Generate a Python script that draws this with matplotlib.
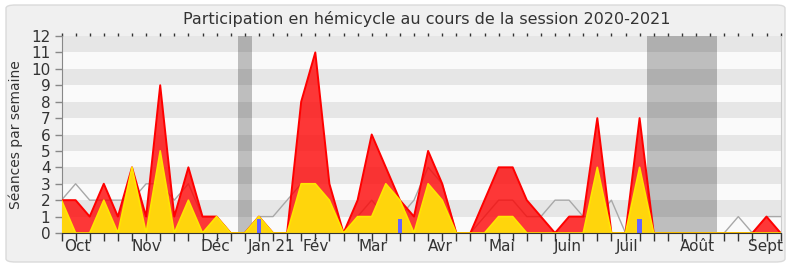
import matplotlib
matplotlib.use("Agg")
import matplotlib.pyplot as plt
from matplotlib.patches import FancyBboxPatch

# weekly values, session 2020-2021 (52 weeks)
weeks = list(range(52))
presence = [2, 2, 1, 3, 1, 4, 1, 9, 1, 4,
            1, 1, 0, 0, 1, 0, 0, 8, 11, 3,
            0, 2, 6, 4, 2, 1, 5, 3, 0, 0,
            2, 4, 4, 2, 1, 0, 1, 1, 7, 0,
            0, 7, 0, 0, 0, 0, 0, 0, 0, 0,
            1, 0]
participation = [2, 0, 0, 2, 0, 4, 0, 5, 0, 2,
                 0, 1, 0, 0, 1, 0, 0, 3, 3, 2,
                 0, 1, 1, 3, 2, 0, 3, 2, 0, 0,
                 0, 1, 1, 0, 0, 0, 0, 0, 4, 0,
                 0, 4, 0, 0, 0, 0, 0, 0, 0, 0,
                 0, 0]
mediane = [2, 3, 2, 2, 2, 2, 3, 3, 2, 3,
           1, 1, 0, 0, 1, 1, 2, 3, 3, 2,
           0, 1, 2, 1, 1, 2, 4, 3, 0, 0,
           1, 2, 2, 1, 1, 2, 2, 1, 1, 2,
           0, 1, 0, 0, 0, 0, 0, 0, 1, 0,
           1, 1]
question_weeks = [14, 24, 41]
question_vals = [0.85, 0.85, 0.85]

vacances = [(12.5, 13.5), (41.5, 46.5)]

month_pos = [1.1, 6.0, 10.9, 14.9, 18.05, 22.1, 26.9, 31.2, 35.9, 40.1, 45.1, 49.95]
month_labels = ["Oct", "Nov", "Déc", "Jan 21", "Fév", "Mar", "Avr", "Mai",
                "Juin", "Juil", "Août", "Sept"]

W, H = 790, 267
fig = plt.figure(figsize=(W / 100, H / 100), dpi=100, facecolor="white")

# rounded frame
frame = FancyBboxPatch((6 / W, 5 / H), 779 / W, 257 / H,
                       boxstyle="round,pad=0,rounding_size=0.012",
                       transform=fig.transFigure, facecolor="#f0f0f0",
                       edgecolor="#dadada", linewidth=1.0, zorder=-10)
fig.patches.append(frame)

left, right, top, bottom = 61.5, 780.6, 36, 233
ax = fig.add_axes([left / W, 1 - bottom / H, (right - left) / W, (bottom - top) / H])
ax.set_facecolor("#fafafa")

# horizontal stripes
for k in range(12):
    ax.axhspan(k, k + 1, color="#e6e6e6" if k % 2 else "#fafafa", lw=0, zorder=0)

# holidays
for a, b in vacances:
    ax.axvspan(a, b, color="black", alpha=0.24, lw=0, zorder=1)

ax.plot(weeks, mediane, color="#a8a8a8", lw=1.0, zorder=2)

ax.fill_between(weeks, presence, 0, facecolor=(1, 0, 0, 0.78), lw=0, zorder=3)
ax.plot(weeks, presence, color="#ff0000", lw=1.4, zorder=3.5)

ax.fill_between(weeks, participation, 0, facecolor="#ffd50c", lw=0, zorder=4)
ax.plot(weeks, participation, color="#ffe600", lw=1.2, zorder=4.5)

ax.bar(question_weeks, question_vals, width=0.33, color="#6464ff", zorder=5)

ax.set_xlim(0, 51)
ax.set_ylim(0, 12)

ax.xaxis.remove_overlapping_locs = False
ax.set_xticks(weeks)
ax.set_xticklabels([])
ax.set_xticks(month_pos, minor=True)
ax.set_xticklabels(month_labels, minor=True)
ax.tick_params(axis="x", which="major", length=6, width=1, color="#333333",
               direction="out")
ax.tick_params(axis="x", which="minor", length=0, pad=4, labelsize=11,
               labelcolor="#333333")
sec = ax.secondary_xaxis("top")
sec.set_xticks(weeks)
sec.set_xticklabels([])
sec.tick_params(length=2, width=1, color="#333333", direction="out")
sec.spines["top"].set_visible(False)

ax.set_yticks(range(13))
ax.tick_params(axis="y", length=5, width=1, color="#888888", pad=3,
               labelsize=11, labelcolor="#333333")

ax.spines["top"].set_visible(False)
ax.spines["right"].set_color("#cccccc")
ax.spines["left"].set_color("#888888")
ax.spines["bottom"].set_color("#333333")
ax.spines["bottom"].set_zorder(6)

ax.set_ylabel("Séances par semaine", fontsize=10, color="#333333", labelpad=6)
fig.text(427 / W, 1 - 19 / H, "Participation en hémicycle au cours de la session 2020-2021",
         ha="center", va="center", fontsize=11.5, color="#333333")

fig.savefig("out.png", dpi=100, facecolor=fig.get_facecolor())
